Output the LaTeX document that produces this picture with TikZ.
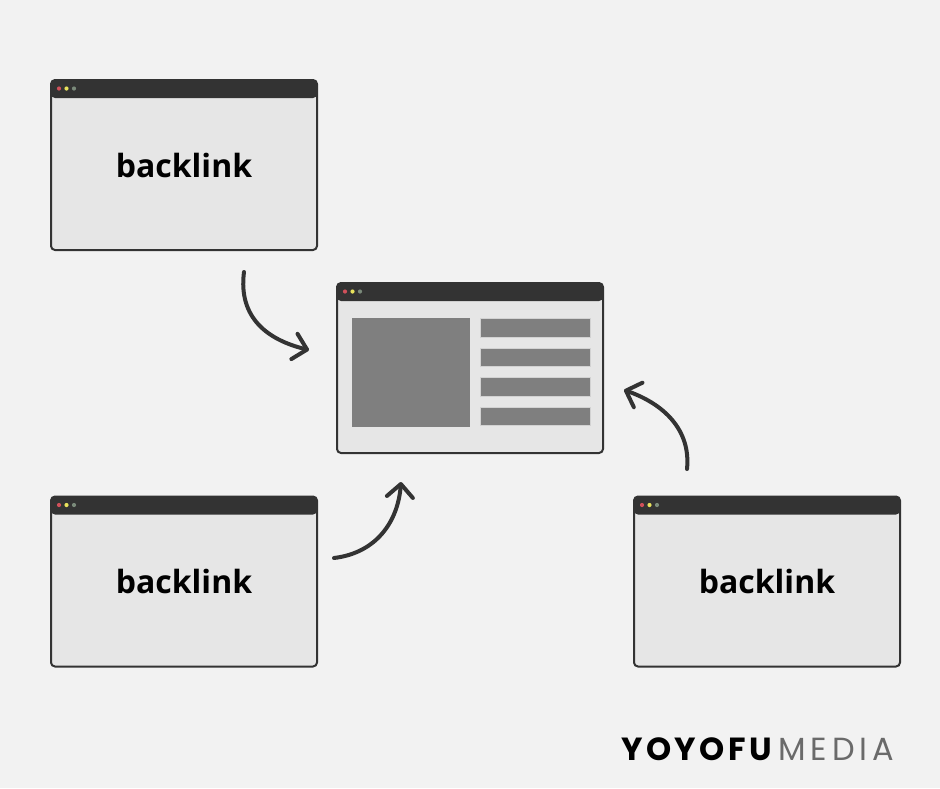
\documentclass[tikz,border=0pt]{standalone}
\usepackage{fontspec}
\setmainfont{Open Sans}
\newfontfamily\logofont{Poppins}[LetterSpace=11]
\newfontfamily\logolight{Poppins}[LetterSpace=15]
\usetikzlibrary{arrows.meta}
\definecolor{bg}{HTML}{F2F2F2}
\definecolor{body}{HTML}{E6E6E6}
\definecolor{dark}{HTML}{333333}
\definecolor{blockc}{HTML}{7F7F7F}
\definecolor{blockedge}{HTML}{D2D2D2}
\definecolor{dotr}{HTML}{D0505A}
\definecolor{doty}{HTML}{E8E25C}
\definecolor{dotg}{HTML}{7A8A7A}
\definecolor{mediac}{HTML}{6A6A6A}
\tikzset{
  win/.style={draw=dark, line width=2pt, fill=body, rounded corners=4pt,
    minimum width=266pt, minimum height=170pt, inner sep=0pt,
    font=\bfseries\fontsize{32}{32}\selectfont, text=black,
    path picture={
      \fill[dark] (path picture bounding box.north west) rectangle ([yshift=-18pt]path picture bounding box.north east);
      \fill[dotr] ([xshift=8pt,yshift=-8.5pt]path picture bounding box.north west) circle (2.1pt);
      \fill[doty] ([xshift=15.5pt,yshift=-8.5pt]path picture bounding box.north west) circle (2.1pt);
      \fill[dotg] ([xshift=23pt,yshift=-8.5pt]path picture bounding box.north west) circle (2.1pt);
    }},
  blk/.style={fill=blockc},
  bar/.style={fill=blockc, draw=blockedge, line width=1pt},
  curvy/.style={draw=dark, line width=4pt, line cap=round, line join=round,
    -{Straight Barb[length=13pt,width=26pt,round]}}
}
\begin{document}
\begin{tikzpicture}[x=1pt,y=-1pt]
\fill[bg] (0,0) rectangle (940,788);
\useasboundingbox (0,0) rectangle (940,788);
% windows
\node[win] (w1) at (184,165) {backlink};
\node[win] (wc) at (470,368) {};
\node[win] (w2) at (184,581.5) {backlink};
\node[win] (w3) at (767,581.5) {backlink};
% content of central window
\fill[blk] (352,318) rectangle (470,427);
\draw[bar] (480,318.5) rectangle (590.5,337);
\draw[bar] (480,348) rectangle (590.5,366.5);
\draw[bar] (480,377.5) rectangle (590.5,396);
\draw[bar] (480,407) rectangle (590.5,425.5);
% arrows
\coordinate (a1s) at (244,272);
\coordinate (a1e) at (309,350);
\coordinate (a2s) at (334,558);
\coordinate (a2e) at (401,482);
\coordinate (a3s) at (687,469);
\coordinate (a3e) at (624,390);
\draw[curvy] (a1s) .. controls (238,318) and (268,340) .. (a1e);
\draw[curvy] (a2s) .. controls (376,553) and (398,522) .. (a2e);
\draw[curvy] (a3s) .. controls (691,430) and (664,404) .. (a3e);
% logo
\node[anchor=base west, inner sep=0pt, font=\logofont\bfseries\fontsize{32}{32}\selectfont] (logo1) at (621,760) {YOYOFU};
\node[anchor=base west, inner sep=0pt, font=\logolight\fontsize{32}{32}\selectfont, text=mediac] (logo2) at ([xshift=6pt]logo1.base east) {MEDIA};
\end{tikzpicture}
\end{document}
